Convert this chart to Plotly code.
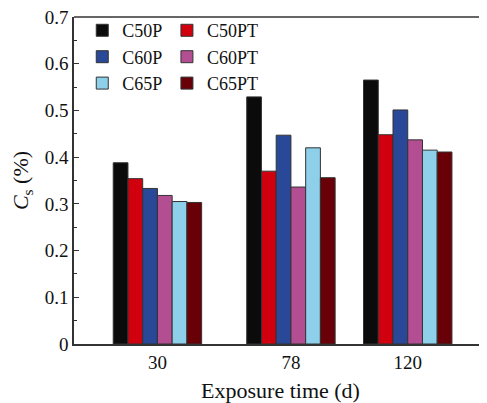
import plotly.graph_objects as go

days = [30, 78, 120]
series_names = ["C50P", "C50PT", "C60P", "C60PT", "C65P", "C65PT"]
c50p = [0.388, 0.529, 0.565]
c50pt = [0.354, 0.370, 0.448]
c60p = [0.333, 0.447, 0.501]
c60pt = [0.318, 0.336, 0.437]
c65p = [0.305, 0.420, 0.415]
c65pt = [0.303, 0.356, 0.411]
y_ticks = [0, 0.1, 0.2, 0.3, 0.4, 0.5, 0.6, 0.7]
y_tick_labels = ["0", "0.1", "0.2", "0.3", "0.4", "0.5", "0.6", "0.7"]

values = [c50p, c50pt, c60p, c60pt, c65p, c65pt]
colors = ["#0b0b0b", "#d1000f", "#2a4898", "#b44e92", "#8ecfea", "#690008"]
legends = ["legend", "legend2", "legend", "legend2", "legend", "legend2"]

FONT = "Liberation Serif, Times New Roman, serif"

fig = go.Figure()
for name, vals, col, lg in zip(series_names, values, colors, legends):
    fig.add_trace(go.Bar(
        x=days, y=vals, name=name, legend=lg,
        marker=dict(color=col, line=dict(color="#333333", width=1)),
    ))

legend_common = dict(
    font=dict(family=FONT, size=18, color="#111111"),
    bgcolor="rgba(0,0,0,0)",
    tracegroupgap=0,
    itemwidth=30,
    yanchor="top",
    xanchor="left",
)

# the page adds an 8px body margin, so the figure is 8px smaller and margins 8px tighter
fig.update_layout(
    width=479, height=395,
    margin=dict(l=66, r=0, t=9, b=59),
    paper_bgcolor="white",
    plot_bgcolor="white",
    barmode="group",
    bargap=0.243,
    bargroupgap=0,
    font=dict(family=FONT, color="#111111"),
    legend=dict(x=0.02, y=1.015, **legend_common),
    legend2=dict(x=0.225, y=1.015, **legend_common),
    xaxis=dict(
        range=[0, 148.5],
        tickmode="array", tickvals=days, ticktext=[str(d) for d in days],
        ticks="", showgrid=False, zeroline=False,
        showline=True, linecolor="#333333", linewidth=1.5,
        tickfont=dict(family=FONT, size=19, color="#111111"),
        title=dict(text="Exposure time (d)", font=dict(family=FONT, size=22, color="#111111"), standoff=12),
    ),
    yaxis=dict(
        range=[0, 0.7],
        tickmode="array", tickvals=y_ticks, ticktext=y_tick_labels,
        ticklabeloverflow="allow",
        ticks="inside", ticklen=5, tickwidth=1, tickcolor="#333333",
        minor=dict(ticks="inside", ticklen=3, tickwidth=1, tickcolor="#333333", dtick=0.05, tick0=0, showgrid=False),
        showgrid=False, zeroline=False,
        showline=True, linecolor="#333333", linewidth=1.5,
        tickfont=dict(family=FONT, size=19, color="#111111"),
        title=dict(text="<i>C</i><sub>s</sub> (%)", font=dict(family=FONT, size=22, color="#111111"), standoff=10),
    ),
    shapes=[dict(type="line", xref="paper", yref="paper", x0=0, x1=1, y0=1, y1=1,
                 line=dict(color="#333333", width=1.5))],
)

fig.write_html("out.html")
